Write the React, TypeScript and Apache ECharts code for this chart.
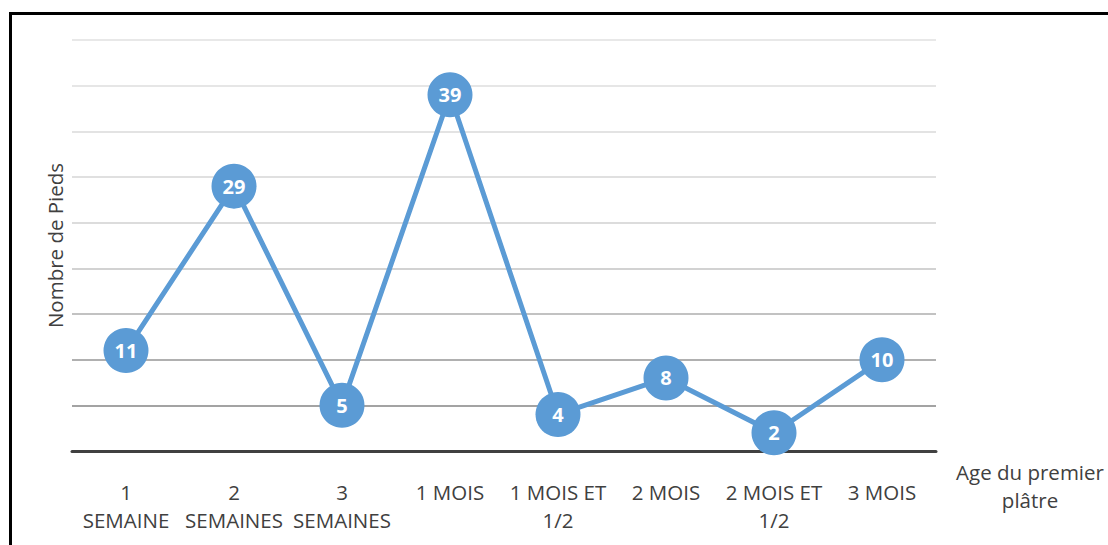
import React, { useEffect, useRef } from "react";
import * as echarts from "echarts";

const categories = [
  "1\nSEMAINE",
  "2\nSEMAINES",
  "3\nSEMAINES",
  "1 MOIS",
  "1 MOIS ET\n1/2",
  "2 MOIS",
  "2 MOIS ET\n1/2",
  "3 MOIS",
];
const values = [11, 29, 5, 39, 4, 8, 2, 10];
const yAxisTitle = "Nombre de Pieds";
const xAxisTitle = "Age du premier\nplâtre";
const gridColors = [
  "#a0a0a0",
  "#a3a3a3",
  "#b0b0b0",
  "#c2c2c2",
  "#d2d2d2",
  "#dcdcdc",
  "#e0e0e0",
  "#e3e3e3",
  "#e6e6e6",
  "#e8e8e8",
];

const FONT = "'Open Sans', sans-serif";
const FS = 20.5;

export default function App() {
  const ref = useRef<HTMLDivElement>(null);
  useEffect(() => {
    if (!ref.current) return;
    const chart = echarts.init(ref.current, undefined, { renderer: "svg" });
    chart.setOption({
      animation: false,
      backgroundColor: "#ffffff",
      textStyle: { fontFamily: FONT },
      graphic: [
        {
          type: "rect",
          shape: { x: 10.5, y: 13.5, width: 1300, height: 700 },
          style: { fill: "none", stroke: "#000000", lineWidth: 3 },
          silent: true,
        },
      ],
      grid: { left: 72, right: 172, top: 40, bottom: 94, containLabel: false },
      xAxis: {
        type: "category",
        data: categories,
        boundaryGap: true,
        axisTick: { show: false },
        axisLine: { lineStyle: { color: "#404040", width: 3 } },
        axisLabel: {
          color: "#404040",
          fontSize: FS,
          fontFamily: FONT,
          lineHeight: 28,
          margin: 27,
          interval: 0,
        },
        name: xAxisTitle,
        nameLocation: "end",
        nameGap: 94,
        nameTextStyle: {
          color: "#404040",
          fontSize: FS,
          fontFamily: FONT,
          lineHeight: 28,
          align: "center",
          verticalAlign: "top",
          padding: [7, 0, 0, 0],
        },
      },
      yAxis: {
        type: "value",
        min: 0,
        max: 45,
        interval: 5,
        axisLabel: { show: false },
        axisLine: { show: false },
        axisTick: { show: false },
        splitLine: { lineStyle: { color: gridColors, width: 2 } },
        name: yAxisTitle,
        nameLocation: "middle",
        nameGap: 7,
        nameTextStyle: { color: "#404040", fontSize: FS, fontFamily: FONT },
      },
      series: [
        {
          type: "line",
          data: values,
          symbol: "circle",
          symbolSize: 45,
          itemStyle: { color: "#5b9bd5" },
          lineStyle: { color: "#5b9bd5", width: 5 },
          label: {
            show: true,
            position: "inside",
            color: "#ffffff",
            fontWeight: "bold",
            fontSize: 20,
            fontFamily: FONT,
          },
        },
      ],
    });
    return () => chart.dispose();
  }, []);
  return (
    <div
      ref={ref}
      style={{ position: "absolute", left: 0, top: 0, width: 1108, height: 545 }}
    />
  );
}
